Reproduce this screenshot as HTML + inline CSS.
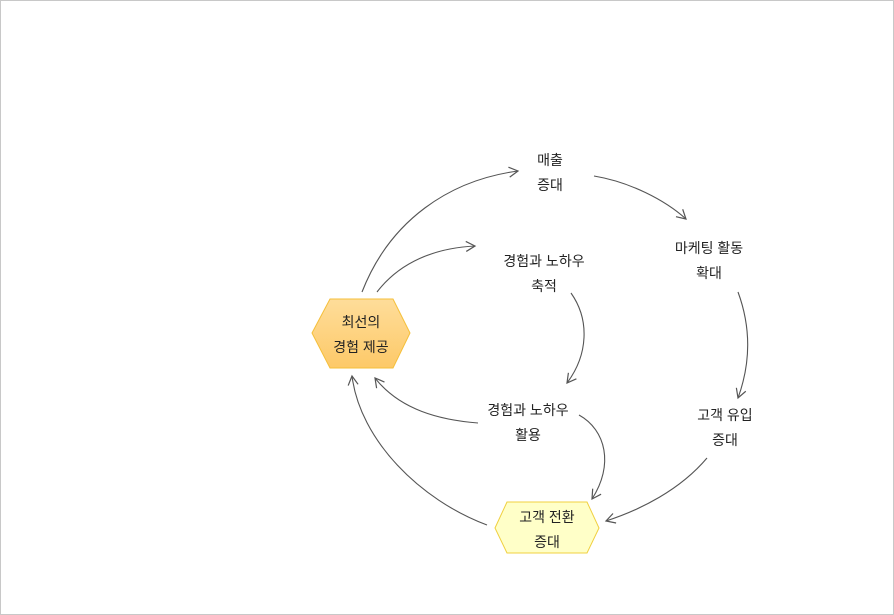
<!DOCTYPE html>
<html><head><meta charset="utf-8"><style>
html,body{margin:0;padding:0;background:#fff;}
svg{display:block;}
text{font-family:"Liberation Sans","Noto Sans CJK KR",sans-serif;font-size:14px;fill:#222;text-anchor:middle;}
</style></head><body>
<svg width="894" height="615" viewBox="0 0 894 615">
<defs>
<marker id="a" markerWidth="12" markerHeight="12" refX="10" refY="6" orient="auto" markerUnits="userSpaceOnUse">
<path d="M1,1 L10,6 L1,11" fill="none" stroke="#555" stroke-width="1.2"/></marker>
<linearGradient id="g1" x1="0" y1="0" x2="0" y2="1"><stop offset="0" stop-color="#fedd9a"/><stop offset="1" stop-color="#fdc968"/></linearGradient>
</defs>
<rect x="0.5" y="0.5" width="893" height="614" fill="#fff" stroke="#c8c8c8"/>
<g fill="none" stroke="#555" stroke-width="1.1" marker-end="url(#a)">
<path d="M362,292 C390,220 450,180 518,171"/>
<path d="M377,292 C400,262 435,248 475,246"/>
<path d="M594,176 C630,182 665,200 686,219"/>
<path d="M738,292 C752,330 750,365 738,398"/>
<path d="M571,293 C590,320 588,355 567,383"/>
<path d="M707,458 C680,490 640,510 606,521"/>
<path d="M579,415 C606,430 614,465 592,499"/>
<path d="M478,423 C440,420 400,410 375,378"/>
<path d="M487,525 C420,500 360,440 352,376"/>
</g>
<polygon points="312,333 330,299 393,299 410,333 393,368 330,368" fill="url(#g1)" stroke="#f5bf3a" stroke-width="1"/>
<polygon points="495,528 507,502 587,502 599,528 587,553 507,553" fill="#ffffc8" stroke="#f0d040" stroke-width="1"/>
<text x="361" y="327">최선의</text>
<text x="361" y="352">경험 제공</text>
<text x="547" y="522">고객 전환</text>
<text x="547" y="547">증대</text>
<text x="550" y="165">매출</text>
<text x="550" y="190">증대</text>
<text x="709" y="253">마케팅 활동</text>
<text x="709" y="278">확대</text>
<text x="544" y="266">경험과 노하우</text>
<text x="544" y="291">축적</text>
<text x="528" y="415">경험과 노하우</text>
<text x="528" y="440">활용</text>
<text x="725" y="420">고객 유입</text>
<text x="725" y="445">증대</text>
</svg>
</body></html>
